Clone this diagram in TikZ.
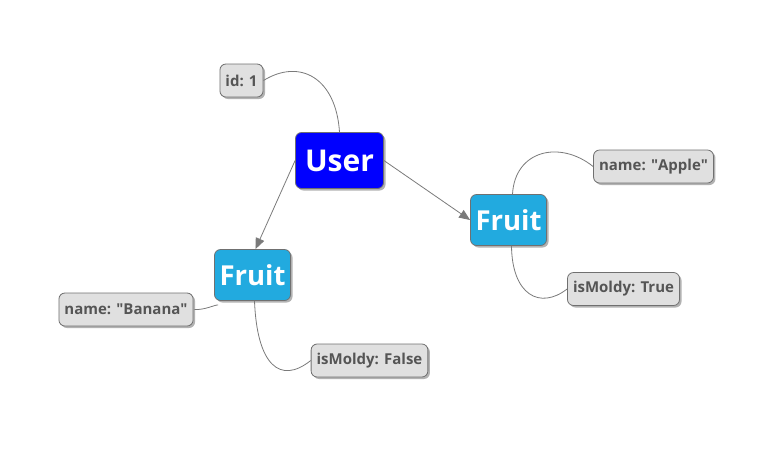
\documentclass[tikz,border=0pt]{standalone}
\usepackage{fontspec}
\setmainfont{Open Sans}
\usetikzlibrary{arrows.meta,shadows}
\definecolor{userblue}{HTML}{0000FF}
\definecolor{fruitblue}{HTML}{22AADF}
\definecolor{leafgray}{HTML}{E0E0E0}
\definecolor{bordergray}{HTML}{707070}
\definecolor{textgray}{HTML}{555555}
\definecolor{linegray}{HTML}{7A7A7A}
\tikzset{
  shad/.style={drop shadow={shadow xshift=2pt,shadow yshift=-2pt,opacity=0.3,fill=black}},
  userbox/.style={shad,draw=bordergray,line width=0.8pt,fill=userblue,rounded corners=6pt,text=white,font=\fontsize{30}{32}\selectfont\bfseries,minimum width=88pt,minimum height=56pt,inner sep=0pt},
  fruitbox/.style={shad,draw=bordergray,line width=0.8pt,fill=fruitblue,rounded corners=6pt,text=white,font=\fontsize{27.5}{30}\selectfont\bfseries,minimum width=76pt,minimum height=51pt,inner sep=0pt},
  leaf/.style={shad,draw=bordergray,line width=0.8pt,fill=leafgray,rounded corners=6pt,text=textgray,font=\fontsize{15}{17}\selectfont\bfseries,minimum height=33pt,inner xsep=5.5pt,inner ysep=0pt},
  link/.style={draw=linegray,line width=0.8pt},
  arr/.style={link,-{Triangle[length=11pt,width=9pt,fill=linegray]}}
}
\begin{document}
\begin{tikzpicture}[x=1pt,y=-1pt]
\useasboundingbox (0,0) rectangle (775,475);
\node[userbox] (user) at (339.5,160.5) {User};
\node[fruitbox] (fr) at (508.5,220) {Fruit};
\node[fruitbox] (fl) at (252.5,275) {Fruit};
\node[leaf] (id) at (241.5,80.5) {id: 1};
\node[leaf] (apple) at (653.5,166.5) {name: \textquotedbl Apple\textquotedbl};
\node[leaf] (mt) at (623.5,289) {isMoldy: True};
\node[leaf] (banana) at (126,309.5) {name: \textquotedbl Banana\textquotedbl};
\node[leaf] (mf) at (369.5,360.5) {isMoldy: False};
\draw[arr] (user.east) -- (fr.west);
\draw[arr] (user.west) -- ([xshift=3pt]fl.north);
\draw[link] (id.east) .. controls (300,58) and (336,78) .. (user.north);
\draw[link] ([xshift=4pt]fr.north) .. controls (515,150) and (560,140) .. (apple.west);
\draw[link] ([xshift=3pt]fr.south) .. controls (512,295) and (540,310) .. (mt.west);
\draw[link] ([xshift=4pt,yshift=-4pt]fl.south west) .. controls (214,305) and (205,310) .. ([xshift=1pt]banana.east);
\draw[link] ([xshift=2pt]fl.south) .. controls (257,365) and (280,385) .. (mf.west);
\end{tikzpicture}
\end{document}
